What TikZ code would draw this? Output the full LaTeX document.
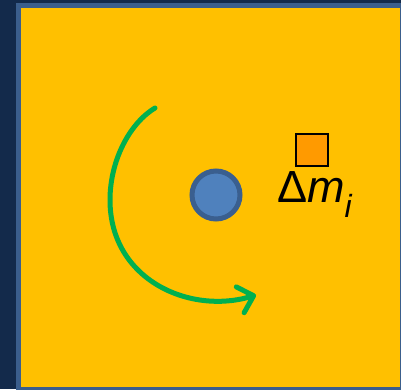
\documentclass[tikz,border=0pt]{standalone}
\usepackage{fontspec}
\setmainfont{Liberation Sans}
\usetikzlibrary{arrows.meta}
\definecolor{navy}{HTML}{132A4B}
\definecolor{bordblue}{HTML}{3B5E8C}
\definecolor{fillyel}{HTML}{FFC000}
\definecolor{ballfill}{HTML}{4F81BD}
\definecolor{ballline}{HTML}{3A5F8F}
\definecolor{sqorange}{HTML}{FF9A00}
\definecolor{arrgreen}{HTML}{00B050}
\tikzset{
  panel/.style={fill=fillyel, draw=bordblue, line width=5pt},
  ball/.style={circle, fill=ballfill, draw=ballline, line width=5pt, minimum size=48pt, inner sep=0pt},
  mass/.style={rectangle, fill=sqorange, draw=black, line width=1.8pt, minimum size=32pt, inner sep=0pt},
  label/.style={inner sep=0pt, anchor=base west},
  turn/.style={draw=arrgreen, line width=5pt, line cap=round, -{Straight Barb[length=14pt,width=27pt,line cap=round,line join=round]}}
}
\begin{document}
\begin{tikzpicture}[x=1pt,y=1pt]
\useasboundingbox (0,0) rectangle (401,389);
\fill[navy] (0,0) rectangle (401,389);
\begin{scope}
\clip (0,0) rectangle (401,389);
\draw[panel] (18.5,383.5) rectangle (402.2,-0.5);
\end{scope}
\node[ball] (c) at (216,194) {};
\node[mass] (sq) at (312,239) {};
\node[label] (dm) at (277,187) {\fontsize{45}{45}\selectfont Δ\textit{m}\raisebox{-15pt}{\fontsize{32}{32}\selectfont\textit{i}}};
\coordinate (s) at (155,281);
\coordinate (l) at (110,189);
\coordinate (e) at (256,94);
\draw[turn] (s) .. controls (130,266) and (110,229) .. (l) .. controls (110,109) and (190,74) .. (e);
\end{tikzpicture}
\end{document}
